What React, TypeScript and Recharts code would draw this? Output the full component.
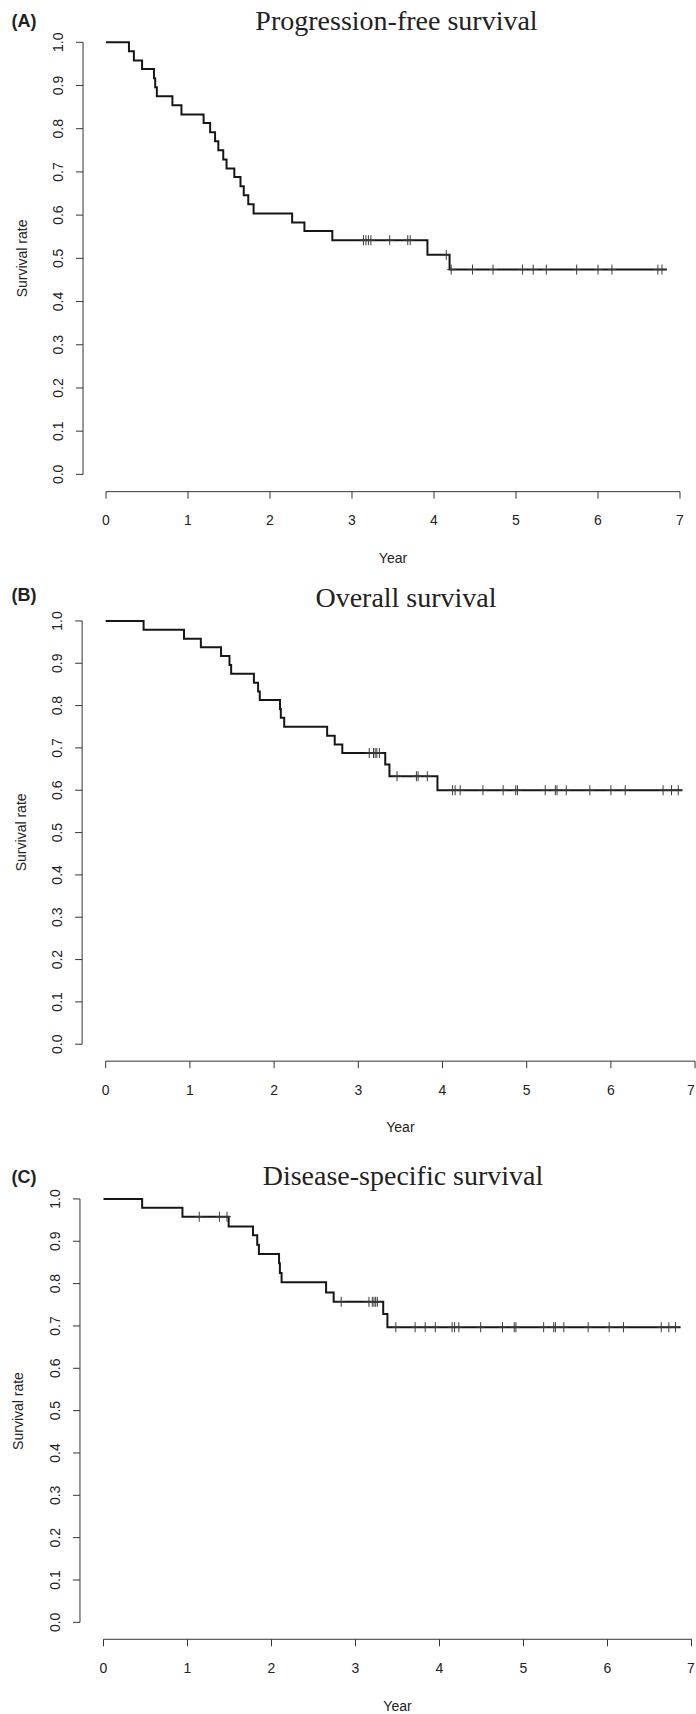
import React from 'react'
import { ComposedChart, Line, Scatter, XAxis, YAxis, ReferenceLine } from 'recharts'

// (A) progression-free survival: step times and levels
const pfsTime = [0, 0.28, 0.34, 0.44, 0.585, 0.6, 0.62, 0.81, 0.92, 1.19, 1.27, 1.33, 1.37, 1.43, 1.47, 1.565, 1.64, 1.68, 1.735, 1.8, 2.27, 2.42, 2.76, 3.92, 4.19, 6.84]
const pfsSurv = [1.0, 0.979, 0.958, 0.938, 0.917, 0.896, 0.875, 0.854, 0.833, 0.813, 0.792, 0.771, 0.75, 0.729, 0.708, 0.688, 0.667, 0.646, 0.625, 0.604, 0.583, 0.563, 0.542, 0.508, 0.474, 0.474]
const pfsCensorTime = [3.14, 3.17, 3.2, 3.23, 3.46, 3.68, 3.71, 4.15, 4.21, 4.47, 4.72, 5.08, 5.21, 5.37, 5.74, 6.0, 6.17, 6.73, 6.78]
const pfsCensorSurv = [0.542, 0.542, 0.542, 0.542, 0.542, 0.542, 0.542, 0.508, 0.474, 0.474, 0.474, 0.474, 0.474, 0.474, 0.474, 0.474, 0.474, 0.474, 0.474]

// (B) overall survival
const osTime = [0, 0.45, 0.93, 1.13, 1.37, 1.47, 1.49, 1.76, 1.81, 1.83, 2.07, 2.08, 2.12, 2.63, 2.72, 2.81, 3.32, 3.37, 3.94, 6.85]
const osSurv = [1.0, 0.979, 0.958, 0.938, 0.917, 0.896, 0.875, 0.854, 0.833, 0.813, 0.792, 0.771, 0.75, 0.729, 0.708, 0.688, 0.661, 0.633, 0.6, 0.6]
const osCensorTime = [3.13, 3.18, 3.2, 3.22, 3.25, 3.46, 3.69, 3.71, 3.82, 4.12, 4.15, 4.21, 4.48, 4.72, 4.87, 4.89, 5.22, 5.34, 5.36, 5.47, 5.75, 6.0, 6.17, 6.62, 6.72, 6.8]
const osCensorSurv = [0.688, 0.688, 0.688, 0.688, 0.688, 0.633, 0.633, 0.633, 0.633, 0.6, 0.6, 0.6, 0.6, 0.6, 0.6, 0.6, 0.6, 0.6, 0.6, 0.6, 0.6, 0.6, 0.6, 0.6, 0.6, 0.6]

// (C) disease-specific survival
const dssTime = [0, 0.46, 0.94, 1.49, 1.78, 1.83, 1.85, 2.09, 2.1, 2.12, 2.65, 2.74, 3.33, 3.38, 6.87]
const dssSurv = [1.0, 0.979, 0.958, 0.935, 0.914, 0.892, 0.87, 0.848, 0.825, 0.803, 0.779, 0.757, 0.728, 0.697, 0.697]
const dssCensorTime = [1.14, 1.38, 1.47, 2.83, 3.16, 3.2, 3.22, 3.24, 3.26, 3.48, 3.71, 3.83, 3.95, 4.15, 4.18, 4.23, 4.49, 4.75, 4.89, 4.91, 5.24, 5.36, 5.38, 5.48, 5.77, 6.02, 6.19, 6.64, 6.73, 6.81]
const dssCensorSurv = [0.958, 0.958, 0.958, 0.757, 0.757, 0.757, 0.757, 0.757, 0.757, 0.697, 0.697, 0.697, 0.697, 0.697, 0.697, 0.697, 0.697, 0.697, 0.697, 0.697, 0.697, 0.697, 0.697, 0.697, 0.697, 0.697, 0.697, 0.697, 0.697, 0.697]

const xTicks = [0, 1, 2, 3, 4, 5, 6, 7]
const yTicks = [0, 0.1, 0.2, 0.3, 0.4, 0.5, 0.6, 0.7, 0.8, 0.9, 1.0]

const SANS = "'Liberation Sans', Arial, Helvetica, sans-serif"
const SERIF = "'Liberation Serif', 'Times New Roman', serif"
const AXIS = '#333'
const TICK = 7
const PAGE_W = 696

const pairs = (t: number[], s: number[]) => t.map((v, i) => ({ t: v, s: s[i] }))

const CensorMark = (props: any) => {
  const { cx, cy } = props
  if (cx == null || cy == null) return null
  return (
    <g stroke="#3a3a3a" strokeWidth={1}>
      <line x1={cx} x2={cx} y1={cy - 5} y2={cy + 5} />
      <line x1={cx - 4} x2={cx + 4} y1={cy} y2={cy} />
    </g>
  )
}

const XTick = (props: any) => {
  const { x, y, payload } = props
  // the last label sits on the page edge; keep it inside
  const tx = Math.min(x, PAGE_W - 5)
  return (
    <text x={tx} y={y + 26.5} textAnchor="middle" fontSize={14} fill="#222" fontFamily={SANS}>
      {payload.value}
    </text>
  )
}

const YTick = (props: any) => {
  const { x, y, payload } = props
  const cx = x - 18
  return (
    <text
      x={cx}
      y={y}
      transform={`rotate(-90 ${cx} ${y})`}
      textAnchor="middle"
      dominantBaseline="central"
      fontSize={14}
      fill="#222"
      fontFamily={SANS}
    >
      {Number(payload.value).toFixed(1)}
    </text>
  )
}

interface PanelSpec {
  letter: string
  title: string
  titleX: number
  titleY: number
  letterY: number
  x0: number // page x of year 0
  perYear: number
  y1: number // page y of rate 1.0
  perUnit: number
  line: { t: number; s: number }[]
  censor: { t: number; s: number }[]
}

const panels: PanelSpec[] = [
  {
    letter: '(A)', title: 'Progression-free survival', titleX: 396.5, titleY: 30, letterY: 27,
    x0: 106, perYear: 82, y1: 42.4, perUnit: 432.1,
    line: pairs(pfsTime, pfsSurv), censor: pairs(pfsCensorTime, pfsCensorSurv),
  },
  {
    letter: '(B)', title: 'Overall survival', titleX: 406, titleY: 606.5, letterY: 601,
    x0: 105.7, perYear: 84.2, y1: 620.7, perUnit: 423.3,
    line: pairs(osTime, osSurv), censor: pairs(osCensorTime, osCensorSurv),
  },
  {
    letter: '(C)', title: 'Disease-specific survival', titleX: 403, titleY: 1185, letterY: 1183,
    x0: 103.5, perYear: 84.0, y1: 1199.3, perUnit: 423.4,
    line: pairs(dssTime, dssSurv), censor: pairs(dssCensorTime, dssCensorSurv),
  },
]

const geom = (p: PanelSpec) => {
  const left = p.x0 - 0.28 * p.perYear
  const top = p.y1 - 0.04 * p.perUnit
  const w = 7.56 * p.perYear
  const h = 1.08 * p.perUnit
  return { left, top, w, h, bottom: top + h }
}

const BOTTOM = 80

function Panel({ p }: { p: PanelSpec }) {
  const g = geom(p)
  return (
    <div style={{ position: 'absolute', left: 0, top: g.top }}>
      <ComposedChart width={g.left + g.w} height={g.h + BOTTOM} margin={{ top: 0, right: 0, bottom: 0, left: 0 }}>
        <XAxis
          type="number"
          dataKey="t"
          domain={[-0.28, 7.28]}
          ticks={xTicks}
          axisLine={false}
          tickLine={{ stroke: AXIS }}
          tickSize={TICK}
          tickMargin={0}
          tick={<XTick />}
          height={BOTTOM}
          interval={0}
        />
        <YAxis
          type="number"
          dataKey="s"
          domain={[-0.04, 1.04]}
          ticks={yTicks}
          axisLine={false}
          tickLine={{ stroke: AXIS }}
          tickSize={TICK}
          tickMargin={0}
          tick={<YTick />}
          width={g.left}
          interval={0}
        />
        <ReferenceLine segment={[{ x: 0, y: -0.04 }, { x: 7, y: -0.04 }]} stroke={AXIS} strokeWidth={1} ifOverflow="visible" />
        <ReferenceLine segment={[{ x: -0.28, y: 0 }, { x: -0.28, y: 1 }]} stroke={AXIS} strokeWidth={1} ifOverflow="visible" />
        <Line
          data={p.line}
          dataKey="s"
          type="stepAfter"
          stroke="#161616"
          strokeWidth={2}
          dot={false}
          activeDot={false}
          isAnimationActive={false}
        />
        <Scatter data={p.censor} dataKey="s" shape={<CensorMark />} isAnimationActive={false} />
      </ComposedChart>
    </div>
  )
}

export default function App() {
  return (
    <div style={{ position: 'absolute', left: 0, top: 0, width: PAGE_W, height: 1714, overflow: 'hidden', background: '#fff' }}>
      {panels.map((p) => (
        <Panel key={p.letter} p={p} />
      ))}
      <svg width={PAGE_W} height={1714} style={{ position: 'absolute', left: 0, top: 0, pointerEvents: 'none' }}>
        {panels.map((p) => {
          const g = geom(p)
          const cy = (g.top + g.bottom) / 2
          const lx = g.left - 61.5
          return (
            <g key={p.letter}>
              <text x={11.5} y={p.letterY} fontSize={18} fontWeight="bold" fill="#222" fontFamily={SANS}>
                {p.letter}
              </text>
              <text x={p.titleX} y={p.titleY} fontSize={28} textAnchor="middle" fill="#222" fontFamily={SERIF}>
                {p.title}
              </text>
              <text
                x={lx}
                y={cy}
                transform={`rotate(-90 ${lx} ${cy})`}
                textAnchor="middle"
                dominantBaseline="central"
                fontSize={14}
                fill="#222"
                fontFamily={SANS}
              >
                Survival rate
              </text>
              <text x={p.x0 + 3.5 * p.perYear} y={g.bottom + 71} fontSize={14} textAnchor="middle" fill="#222" fontFamily={SANS}>
                Year
              </text>
            </g>
          )
        })}
      </svg>
    </div>
  )
}
